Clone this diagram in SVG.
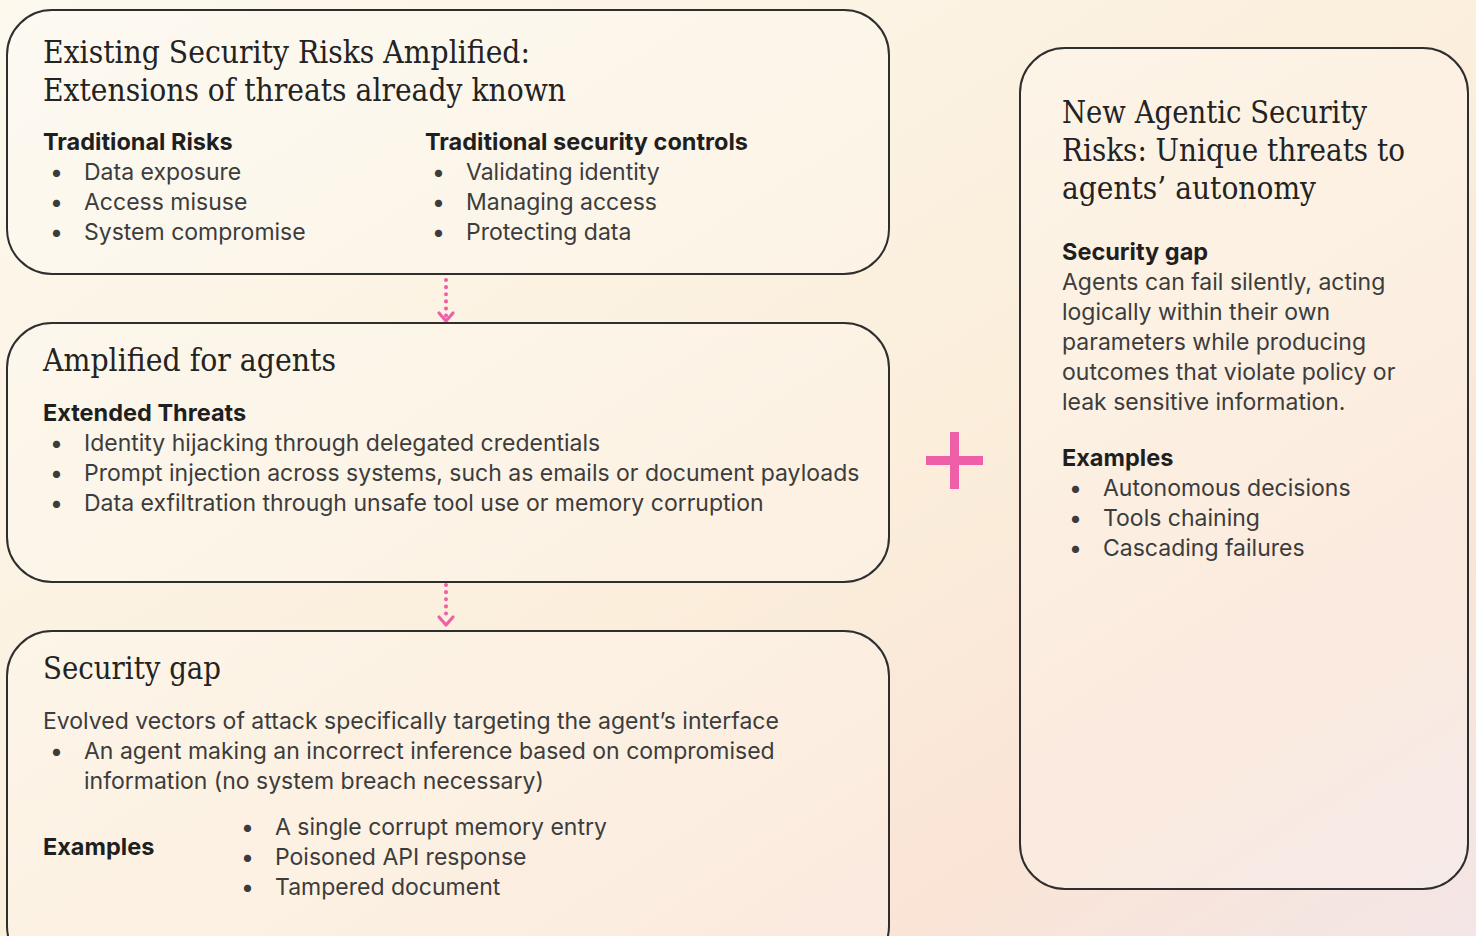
<svg xmlns="http://www.w3.org/2000/svg" width="1476" height="936" viewBox="0 0 1476 936">
<defs>
<linearGradient id="bg" x1="0" y1="0" x2="1" y2="1">
<stop offset="0" stop-color="#fdf9ee"/>
<stop offset="0.55" stop-color="#fbeedb"/>
<stop offset="0.8" stop-color="#fae4d6"/>
<stop offset="1" stop-color="#f3e6e6"/>
</linearGradient>
<style>
.box{fill:#ffffff;fill-opacity:0.22;stroke:#2e2e2e;stroke-width:2}
.title{font-family:"DejaVu Serif","Liberation Serif",serif;font-size:31px;fill:#232323}
.head{font-family:Inter,"Liberation Sans",sans-serif;font-size:23.5px;font-weight:700;fill:#1f1f1f}
.body{font-family:Inter,"Liberation Sans",sans-serif;font-size:23px;fill:#3c3c3c}
.conn{stroke:#ee5fa8;stroke-width:4;stroke-dasharray:0.1 7;stroke-linecap:round;fill:none}
.head-arrow{fill:none;stroke:#ee5fa8;stroke-width:3.2;stroke-linecap:round;stroke-linejoin:round}
.plus{fill:#ee5fa8}
</style>
</defs>
<rect width="1476" height="936" fill="url(#bg)"/>

<g id="connectors">
<line class="conn" x1="446" y1="280" x2="446" y2="316"/>
<path class="head-arrow" d="M439,313 L446,321 L453,313"/>
<line class="conn" x1="446" y1="585" x2="446" y2="620"/>
<path class="head-arrow" d="M439,617 L446,625 L453,617"/>
</g>

<g id="existing-risks">
<rect class="box" x="7" y="10" width="882" height="264" rx="45"/>
<text class="title" x="43" y="63" textLength="487" lengthAdjust="spacingAndGlyphs">Existing Security Risks Amplified:</text>
<text class="title" x="43" y="101" textLength="523" lengthAdjust="spacingAndGlyphs">Extensions of threats already known</text>
<text class="head" x="43" y="150">Traditional Risks</text>
<text class="body" x="50" y="180">•</text><text class="body" x="84" y="180">Data exposure</text>
<text class="body" x="50" y="210">•</text><text class="body" x="84" y="210">Access misuse</text>
<text class="body" x="50" y="240">•</text><text class="body" x="84" y="240">System compromise</text>
<text class="head" x="425" y="150">Traditional security controls</text>
<text class="body" x="432" y="180">•</text><text class="body" x="466" y="180">Validating identity</text>
<text class="body" x="432" y="210">•</text><text class="body" x="466" y="210">Managing access</text>
<text class="body" x="432" y="240">•</text><text class="body" x="466" y="240">Protecting data</text>
</g>

<g id="amplified">
<rect class="box" x="7" y="323" width="882" height="259" rx="45"/>
<text class="title" x="43" y="371" textLength="293" lengthAdjust="spacingAndGlyphs">Amplified for agents</text>
<text class="head" x="43" y="421">Extended Threats</text>
<text class="body" x="50" y="451">•</text><text class="body" x="84" y="451">Identity hijacking through delegated credentials</text>
<text class="body" x="50" y="481">•</text><text class="body" x="84" y="481">Prompt injection across systems, such as emails or document payloads</text>
<text class="body" x="50" y="511">•</text><text class="body" x="84" y="511">Data exfiltration through unsafe tool use or memory corruption</text>
</g>

<g id="security-gap">
<rect class="box" x="7" y="631" width="882" height="340" rx="45"/>
<text class="title" x="43" y="679" textLength="178" lengthAdjust="spacingAndGlyphs">Security gap</text>
<text class="body" x="43" y="729">Evolved vectors of attack specifically targeting the agent’s interface</text>
<text class="body" x="50" y="759">•</text><text class="body" x="84" y="759">An agent making an incorrect inference based on compromised</text>
<text class="body" x="84" y="789">information (no system breach necessary)</text>
<text class="head" x="43" y="855">Examples</text>
<text class="body" x="241" y="835">•</text><text class="body" x="275" y="835">A single corrupt memory entry</text>
<text class="body" x="241" y="865">•</text><text class="body" x="275" y="865">Poisoned API response</text>
<text class="body" x="241" y="895">•</text><text class="body" x="275" y="895">Tampered document</text>
</g>

<g id="plus">
<rect class="plus" x="926" y="456" width="57" height="9"/>
<rect class="plus" x="950" y="432" width="9" height="57"/>
</g>

<g id="new-agentic-risks">
<rect class="box" x="1020" y="48" width="448" height="841" rx="45"/>
<text class="title" x="1062" y="123" textLength="305" lengthAdjust="spacingAndGlyphs">New Agentic Security</text>
<text class="title" x="1062" y="161" textLength="343" lengthAdjust="spacingAndGlyphs">Risks: Unique threats to</text>
<text class="title" x="1062" y="199" textLength="254" lengthAdjust="spacingAndGlyphs">agents’ autonomy</text>
<text class="head" x="1062" y="260">Security gap</text>
<text class="body" x="1062" y="290">Agents can fail silently, acting</text>
<text class="body" x="1062" y="320">logically within their own</text>
<text class="body" x="1062" y="350">parameters while producing</text>
<text class="body" x="1062" y="380">outcomes that violate policy or</text>
<text class="body" x="1062" y="410">leak sensitive information.</text>
<text class="head" x="1062" y="466">Examples</text>
<text class="body" x="1069" y="496">•</text><text class="body" x="1103" y="496">Autonomous decisions</text>
<text class="body" x="1069" y="526">•</text><text class="body" x="1103" y="526">Tools chaining</text>
<text class="body" x="1069" y="556">•</text><text class="body" x="1103" y="556">Cascading failures</text>
</g>
</svg>
